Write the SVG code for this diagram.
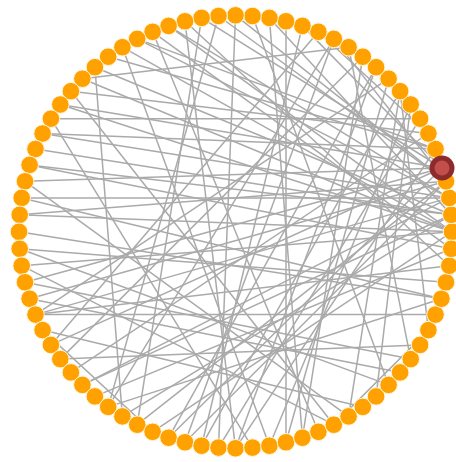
<svg xmlns="http://www.w3.org/2000/svg" width="456" height="462" viewBox="0 0 456 462">
<style>
.e line{stroke:#aaaaaa;stroke-width:1.5;fill:none}
.n circle{fill:#ffa100;stroke:#fff6d8;stroke-width:1}
.r .o{fill:#8b2b2b}
.r .i{fill:#c24f4c}
</style>
<rect width="456" height="462" fill="#ffffff"/>
<g id="connectors" class="e">
<line x1="50.9" y1="118.7" x2="420.1" y2="118.7"/>
<line x1="70.9" y1="91.2" x2="428.4" y2="133.5"/>
<line x1="60.3" y1="104.5" x2="442" y2="168"/>
<line x1="42.6" y1="133.5" x2="449.3" y2="197.9"/>
<line x1="35.5" y1="149" x2="451.3" y2="214.8"/>
<line x1="29.6" y1="164.9" x2="451.3" y2="214.8"/>
<line x1="25" y1="181.3" x2="442" y2="168"/>
<line x1="21.7" y1="197.9" x2="449.3" y2="197.9"/>
<line x1="19.7" y1="214.8" x2="446" y2="181.3"/>
<line x1="21.7" y1="265.7" x2="452" y2="231.8"/>
<line x1="29.6" y1="298.7" x2="446" y2="181.3"/>
<line x1="50.9" y1="344.9" x2="442" y2="168"/>
<line x1="70.9" y1="372.4" x2="428.4" y2="133.5"/>
<line x1="82.4" y1="78.7" x2="348.6" y2="47.2"/>
<line x1="94.9" y1="67.2" x2="122.4" y2="416.4"/>
<line x1="218.5" y1="16" x2="108.2" y2="406.9"/>
<line x1="318.4" y1="31.8" x2="50.9" y2="344.9"/>
<line x1="333.8" y1="38.9" x2="108.2" y2="406.9"/>
<line x1="21.7" y1="265.7" x2="333.8" y2="424.7"/>
<line x1="235.5" y1="15.3" x2="446" y2="181.3"/>
<line x1="201.6" y1="17.9" x2="442" y2="168"/>
<line x1="168.6" y1="25.9" x2="449.3" y2="197.9"/>
<line x1="269.4" y1="17.9" x2="451.3" y2="214.8"/>
<line x1="137.2" y1="38.9" x2="435.5" y2="149"/>
<line x1="122.4" y1="47.2" x2="452" y2="231.8"/>
<line x1="152.6" y1="31.8" x2="451.3" y2="248.8"/>
<line x1="185" y1="21.3" x2="449.3" y2="265.7"/>
<line x1="286" y1="21.3" x2="286" y2="442.3"/>
<line x1="269.4" y1="17.9" x2="302.4" y2="437.7"/>
<line x1="302.4" y1="25.9" x2="201.6" y2="445.7"/>
<line x1="185" y1="21.3" x2="235.5" y2="448.3"/>
<line x1="376.1" y1="67.2" x2="168.6" y2="437.7"/>
<line x1="362.8" y1="56.7" x2="60.3" y2="359.1"/>
<line x1="388.6" y1="78.7" x2="35.5" y2="314.6"/>
<line x1="19.7" y1="248.8" x2="388.6" y2="384.9"/>
<line x1="25" y1="282.3" x2="410.7" y2="359.1"/>
<line x1="35.5" y1="314.6" x2="435.5" y2="314.6"/>
<line x1="42.6" y1="330.1" x2="362.8" y2="406.9"/>
<line x1="19" y1="231.8" x2="441.4" y2="298.7"/>
<line x1="60.3" y1="359.1" x2="420.1" y2="344.9"/>
<line x1="82.4" y1="384.9" x2="449.3" y2="197.9"/>
<line x1="94.9" y1="396.4" x2="451.3" y2="248.8"/>
<line x1="122.4" y1="416.4" x2="451.3" y2="214.8"/>
<line x1="137.2" y1="424.7" x2="446" y2="181.3"/>
<line x1="152.6" y1="431.8" x2="452" y2="231.8"/>
<line x1="168.6" y1="437.7" x2="442" y2="168"/>
<line x1="201.6" y1="445.7" x2="400.1" y2="91.2"/>
<line x1="235.5" y1="448.3" x2="376.1" y2="67.2"/>
<line x1="269.4" y1="445.7" x2="410.7" y2="104.5"/>
<line x1="302.4" y1="437.7" x2="362.8" y2="56.7"/>
<line x1="185" y1="442.3" x2="333.8" y2="38.9"/>
<line x1="318.4" y1="31.8" x2="428.4" y2="133.5"/>
<line x1="42.6" y1="330.1" x2="152.6" y2="431.8"/>
<line x1="333.8" y1="424.7" x2="428.4" y2="330.1"/>
<line x1="108.2" y1="56.7" x2="435.5" y2="149"/>
<line x1="82.4" y1="78.7" x2="452" y2="231.8"/>
<line x1="152.6" y1="31.8" x2="318.4" y2="431.8"/>
<line x1="122.4" y1="47.2" x2="269.4" y2="445.7"/>
<line x1="70.9" y1="91.2" x2="333.8" y2="424.7"/>
<line x1="252.5" y1="16" x2="388.6" y2="384.9"/>
<line x1="348.6" y1="47.2" x2="410.7" y2="359.1"/>
<line x1="400.1" y1="91.2" x2="428.4" y2="330.1"/>
<line x1="410.7" y1="104.5" x2="376.1" y2="396.4"/>
<line x1="435.5" y1="149" x2="235.5" y2="448.3"/>
<line x1="446" y1="181.3" x2="185" y2="442.3"/>
<line x1="451.3" y1="214.8" x2="82.4" y2="384.9"/>
<line x1="449.3" y1="265.7" x2="35.5" y2="314.6"/>
<line x1="446" y1="282.3" x2="19.7" y2="248.8"/>
<line x1="441.4" y1="298.7" x2="21.7" y2="197.9"/>
<line x1="137.2" y1="38.9" x2="449.3" y2="197.9"/>
<line x1="94.9" y1="67.2" x2="451.3" y2="214.8"/>
<line x1="60.3" y1="104.5" x2="452" y2="231.8"/>
<line x1="42.6" y1="133.5" x2="435.5" y2="149"/>
<line x1="29.6" y1="164.9" x2="451.3" y2="248.8"/>
<line x1="19.7" y1="214.8" x2="452" y2="231.8"/>
<line x1="25" y1="282.3" x2="442" y2="168"/>
<line x1="35.5" y1="314.6" x2="449.3" y2="197.9"/>
<line x1="218.5" y1="16" x2="446" y2="181.3"/>
<line x1="168.6" y1="25.9" x2="452" y2="231.8"/>
<line x1="302.4" y1="25.9" x2="442" y2="168"/>
<line x1="333.8" y1="38.9" x2="446" y2="181.3"/>
<line x1="235.5" y1="15.3" x2="218.5" y2="447.6"/>
<line x1="201.6" y1="17.9" x2="137.2" y2="424.7"/>
<line x1="348.6" y1="416.4" x2="400.1" y2="91.2"/>
<line x1="286" y1="442.3" x2="388.6" y2="78.7"/>
<line x1="218.5" y1="447.6" x2="420.1" y2="118.7"/>
<line x1="108.2" y1="406.9" x2="441.4" y2="298.7"/>
<line x1="29.6" y1="298.7" x2="400.1" y2="372.4"/>
<line x1="25" y1="181.3" x2="348.6" y2="416.4"/>
<line x1="50.9" y1="118.7" x2="252.5" y2="447.6"/>
</g>
<g id="nodes" class="n">
<g id="n0"><circle cx="452" cy="231.8" r="8.8"/></g>
<g id="n1"><circle cx="451.3" cy="214.8" r="8.8"/></g>
<g id="n2"><circle cx="449.3" cy="197.9" r="8.8"/></g>
<g id="n3"><circle cx="446" cy="181.3" r="8.8"/></g>
<g id="n5"><circle cx="435.5" cy="149" r="8.8"/></g>
<g id="n6"><circle cx="428.4" cy="133.5" r="8.8"/></g>
<g id="n7"><circle cx="420.1" cy="118.7" r="8.8"/></g>
<g id="n8"><circle cx="410.7" cy="104.5" r="8.8"/></g>
<g id="n9"><circle cx="400.1" cy="91.2" r="8.8"/></g>
<g id="n10"><circle cx="388.6" cy="78.7" r="8.8"/></g>
<g id="n11"><circle cx="376.1" cy="67.2" r="8.8"/></g>
<g id="n12"><circle cx="362.8" cy="56.7" r="8.8"/></g>
<g id="n13"><circle cx="348.6" cy="47.2" r="8.8"/></g>
<g id="n14"><circle cx="333.8" cy="38.9" r="8.8"/></g>
<g id="n15"><circle cx="318.4" cy="31.8" r="8.8"/></g>
<g id="n16"><circle cx="302.4" cy="25.9" r="8.8"/></g>
<g id="n17"><circle cx="286" cy="21.3" r="8.8"/></g>
<g id="n18"><circle cx="269.4" cy="17.9" r="8.8"/></g>
<g id="n19"><circle cx="252.5" cy="16" r="8.8"/></g>
<g id="n20"><circle cx="235.5" cy="15.3" r="8.8"/></g>
<g id="n21"><circle cx="218.5" cy="16" r="8.8"/></g>
<g id="n22"><circle cx="201.6" cy="17.9" r="8.8"/></g>
<g id="n23"><circle cx="185" cy="21.3" r="8.8"/></g>
<g id="n24"><circle cx="168.6" cy="25.9" r="8.8"/></g>
<g id="n25"><circle cx="152.6" cy="31.8" r="8.8"/></g>
<g id="n26"><circle cx="137.2" cy="38.9" r="8.8"/></g>
<g id="n27"><circle cx="122.4" cy="47.2" r="8.8"/></g>
<g id="n28"><circle cx="108.2" cy="56.7" r="8.8"/></g>
<g id="n29"><circle cx="94.9" cy="67.2" r="8.8"/></g>
<g id="n30"><circle cx="82.4" cy="78.7" r="8.8"/></g>
<g id="n31"><circle cx="70.9" cy="91.2" r="8.8"/></g>
<g id="n32"><circle cx="60.3" cy="104.5" r="8.8"/></g>
<g id="n33"><circle cx="50.9" cy="118.7" r="8.8"/></g>
<g id="n34"><circle cx="42.6" cy="133.5" r="8.8"/></g>
<g id="n35"><circle cx="35.5" cy="149" r="8.8"/></g>
<g id="n36"><circle cx="29.6" cy="164.9" r="8.8"/></g>
<g id="n37"><circle cx="25" cy="181.3" r="8.8"/></g>
<g id="n38"><circle cx="21.7" cy="197.9" r="8.8"/></g>
<g id="n39"><circle cx="19.7" cy="214.8" r="8.8"/></g>
<g id="n40"><circle cx="19" cy="231.8" r="8.8"/></g>
<g id="n41"><circle cx="19.7" cy="248.8" r="8.8"/></g>
<g id="n42"><circle cx="21.7" cy="265.7" r="8.8"/></g>
<g id="n43"><circle cx="25" cy="282.3" r="8.8"/></g>
<g id="n44"><circle cx="29.6" cy="298.7" r="8.8"/></g>
<g id="n45"><circle cx="35.5" cy="314.6" r="8.8"/></g>
<g id="n46"><circle cx="42.6" cy="330.1" r="8.8"/></g>
<g id="n47"><circle cx="50.9" cy="344.9" r="8.8"/></g>
<g id="n48"><circle cx="60.3" cy="359.1" r="8.8"/></g>
<g id="n49"><circle cx="70.9" cy="372.4" r="8.8"/></g>
<g id="n50"><circle cx="82.4" cy="384.9" r="8.8"/></g>
<g id="n51"><circle cx="94.9" cy="396.4" r="8.8"/></g>
<g id="n52"><circle cx="108.2" cy="406.9" r="8.8"/></g>
<g id="n53"><circle cx="122.4" cy="416.4" r="8.8"/></g>
<g id="n54"><circle cx="137.2" cy="424.7" r="8.8"/></g>
<g id="n55"><circle cx="152.6" cy="431.8" r="8.8"/></g>
<g id="n56"><circle cx="168.6" cy="437.7" r="8.8"/></g>
<g id="n57"><circle cx="185" cy="442.3" r="8.8"/></g>
<g id="n58"><circle cx="201.6" cy="445.7" r="8.8"/></g>
<g id="n59"><circle cx="218.5" cy="447.6" r="8.8"/></g>
<g id="n60"><circle cx="235.5" cy="448.3" r="8.8"/></g>
<g id="n61"><circle cx="252.5" cy="447.6" r="8.8"/></g>
<g id="n62"><circle cx="269.4" cy="445.7" r="8.8"/></g>
<g id="n63"><circle cx="286" cy="442.3" r="8.8"/></g>
<g id="n64"><circle cx="302.4" cy="437.7" r="8.8"/></g>
<g id="n65"><circle cx="318.4" cy="431.8" r="8.8"/></g>
<g id="n66"><circle cx="333.8" cy="424.7" r="8.8"/></g>
<g id="n67"><circle cx="348.6" cy="416.4" r="8.8"/></g>
<g id="n68"><circle cx="362.8" cy="406.9" r="8.8"/></g>
<g id="n69"><circle cx="376.1" cy="396.4" r="8.8"/></g>
<g id="n70"><circle cx="388.6" cy="384.9" r="8.8"/></g>
<g id="n71"><circle cx="400.1" cy="372.4" r="8.8"/></g>
<g id="n72"><circle cx="410.7" cy="359.1" r="8.8"/></g>
<g id="n73"><circle cx="420.1" cy="344.9" r="8.8"/></g>
<g id="n74"><circle cx="428.4" cy="330.1" r="8.8"/></g>
<g id="n75"><circle cx="435.5" cy="314.6" r="8.8"/></g>
<g id="n76"><circle cx="441.4" cy="298.7" r="8.8"/></g>
<g id="n77"><circle cx="446" cy="282.3" r="8.8"/></g>
<g id="n78"><circle cx="449.3" cy="265.7" r="8.8"/></g>
<g id="n79"><circle cx="451.3" cy="248.8" r="8.8"/></g>
</g>
<g id="n4" class="r"><circle class="o" cx="442" cy="168" r="12.5"/><circle class="i" cx="442" cy="168" r="7.5"/></g>
</svg>
